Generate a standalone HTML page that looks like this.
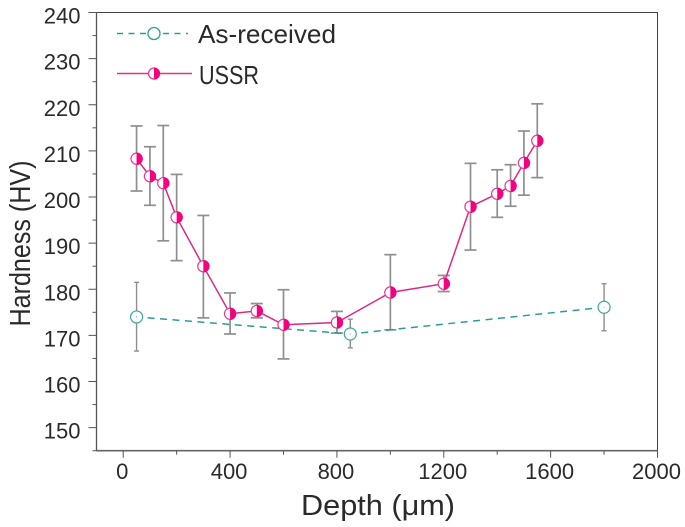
<!DOCTYPE html>
<html>
<head>
<meta charset="utf-8">
<style>
html,body{margin:0;padding:0;background:#fff;width:685px;height:527px;overflow:hidden}
svg{display:block}
text{font-family:"Liberation Sans",sans-serif;fill:#2a2a2a}
</style>
</head>
<body>
<svg id="chart" width="685" height="527" viewBox="0 0 685 527" xmlns="http://www.w3.org/2000/svg">
<text transform="translate(30,243.5) rotate(-90)" text-anchor="middle" font-size="29" textLength="166" lengthAdjust="spacingAndGlyphs">Hardness (HV)</text>
<text x="378" y="515" text-anchor="middle" font-size="29" textLength="154" lengthAdjust="spacingAndGlyphs">Depth (μm)</text>
<g>
<line x1="117" y1="33.5" x2="188" y2="33.5" stroke="#2a9d9b" stroke-width="1.5" stroke-dasharray="6 5.5"/>
<circle cx="154" cy="33.5" r="6" fill="#fff" stroke="#2a9d9b" stroke-width="1.3"/>
<text x="198" y="43" font-size="26" textLength="138" lengthAdjust="spacingAndGlyphs">As-received</text>
<line x1="117" y1="73.5" x2="192" y2="73.5" stroke="#e0358c" stroke-width="1.4"/>
<circle cx="154" cy="73.5" r="5.5" fill="#fff" stroke="#e0409a" stroke-width="1.3"/>
<path d="M154 67.5 A6 6 0 0 1 154 79.5 Z" fill="#f5007f"/>
<text x="199" y="84" font-size="26" textLength="60" lengthAdjust="spacingAndGlyphs">USSR</text>
</g>
</svg>
<script>
const xTickLabels = [0, 400, 800, 1200, 1600, 2000];
const xMinorTicks = [200, 600, 1000, 1400, 1800];
const yTickLabels = [150, 160, 170, 180, 190, 200, 210, 220, 230, 240];
const yMinorTicks = [145, 155, 165, 175, 185, 195, 205, 215, 225, 235];

const asReceivedDepth = [50, 850, 1800];
const asReceivedHardness = [174, 170.3, 176.1];
const asReceivedLow = [166.6, 167.3, 171];
const asReceivedHigh = [181.5, 173.5, 181.2];

const ussrDepth = [50, 100, 150, 200, 300, 400, 500, 600, 800, 1000, 1200, 1300, 1400, 1450, 1500, 1550];
const ussrHardness = [208.3, 204.5, 203, 195.6, 185, 174.7, 175.3, 172.3, 172.8, 179.3, 181.2, 197.9, 200.7, 202.4, 207.4, 212.2];
const ussrLow = [201.3, 198.2, 190.5, 186.2, 173.8, 170.3, 173.8, 164.9, 170.5, 171.2, 179.5, 188.5, 195.6, 198, 200.4, 204.2];
const ussrHigh = [215.4, 210.9, 215.5, 204.9, 196, 179.2, 176.9, 179.9, 175.2, 187.5, 183, 207.3, 205.9, 207, 214.3, 220.2];

const svg = document.getElementById('chart');
const NS = 'http://www.w3.org/2000/svg';
const left = 96.5, right = 657.5, top_ = 12.5, bottom = 450.7;
function xScale(v) { return left + (v + 100) * (right - left) / 2100; }
function yScale(v) { return bottom - (v - 145) * (bottom - top_) / 95; }
function make(tag, attrs, parent) {
  const el = document.createElementNS(NS, tag);
  for (const k in attrs) el.setAttribute(k, attrs[k]);
  (parent || svg).appendChild(el);
  return el;
}

const axes = make('g', {});


const frame = make('rect', { x: left, y: top_, width: right - left, height: bottom - top_, fill: 'none', stroke: '#444', 'stroke-width': 1 }, axes);


const base = make('line', { x1: left, x2: right, y1: bottom, y2: bottom, stroke: '#666', 'stroke-width': 1.6 }, axes);


const yLine = make('line', { x1: left, x2: left, y1: top_, y2: bottom, stroke: '#555', 'stroke-width': 1.3 }, axes);



xTickLabels.forEach(function (v) {
  const t = make('line', { x1: xScale(v), x2: xScale(v), y1: bottom, y2: bottom + 7, stroke: '#555', 'stroke-width': 1 }, axes);
  
  
  const l = make('text', { x: xScale(v) - 1, y: bottom + 28.5, 'text-anchor': 'middle', 'font-size': 22 }, axes);
  
  
  l.textContent = v;
});
xMinorTicks.forEach(function (v) {
  const t = make('line', { x1: xScale(v), x2: xScale(v), y1: bottom, y2: bottom + 4, stroke: '#555', 'stroke-width': 1 }, axes);
  
  
});
yTickLabels.forEach(function (v) {
  const t = make('line', { x1: left - 8, x2: left, y1: yScale(v), y2: yScale(v), stroke: '#555', 'stroke-width': 1 }, axes);
  
  
  const l = make('text', { x: 80.5, y: yScale(v) + 11, 'text-anchor': 'end', 'font-size': 22 }, axes);
  
  
  l.textContent = v;
});
yMinorTicks.forEach(function (v) {
  const t = make('line', { x1: left - 4, x2: left, y1: yScale(v), y2: yScale(v), stroke: '#555', 'stroke-width': 1 }, axes);
  
  
});

function errorBars(depth, low, high, capHalf, width, name) {
  depth.forEach(function (d, i) {
    const x = xScale(d);
    const g = make('g', { stroke: '#8f8f8f', 'stroke-width': width });
    
    
    make('line', { x1: x, x2: x, y1: yScale(low[i]), y2: yScale(high[i]) }, g);
    make('line', { x1: x - capHalf, x2: x + capHalf, y1: yScale(low[i]), y2: yScale(low[i]) }, g);
    make('line', { x1: x - capHalf, x2: x + capHalf, y1: yScale(high[i]), y2: yScale(high[i]) }, g);
  });
}
errorBars(asReceivedDepth, asReceivedLow, asReceivedHigh, 2.5, 1.4, 'as-received-error-bar');
errorBars(ussrDepth, ussrLow, ussrHigh, 6, 1.7, 'ussr-error-bar');

// As-received dashed connectors, trimmed short of each marker
asReceivedDepth.slice(1).forEach(function (d, i) {
  const x1 = xScale(asReceivedDepth[i]), y1 = yScale(asReceivedHardness[i]);
  const x2 = xScale(d), y2 = yScale(asReceivedHardness[i + 1]);
  const len = Math.hypot(x2 - x1, y2 - y1), ux = (x2 - x1) / len, uy = (y2 - y1) / len;
  const seg = make('line', { x1: x1 + ux * 11, y1: y1 + uy * 11, x2: x2 - ux * 7, y2: y2 - uy * 7, stroke: '#2a9d9b', 'stroke-width': 1.5, 'stroke-dasharray': '7 5.5' });
  
  
});
asReceivedDepth.forEach(function (d, i) {
  const g = make('g', {});
  
  
  make('circle', { cx: xScale(d), cy: yScale(asReceivedHardness[i]), r: 6, fill: '#fff', stroke: '#3aa5a3', 'stroke-width': 1.2 }, g);
  make('circle', { cx: xScale(d), cy: yScale(asReceivedHardness[i]), r: 0.5, fill: '#3aa5a3' }, g);
});

const ussrPts = ussrDepth.map(function (d, i) { return xScale(d) + ',' + yScale(ussrHardness[i]); }).join(' ');
const ussrLine = make('polyline', { points: ussrPts, fill: 'none', stroke: '#d92a86', 'stroke-width': 1.5 });


ussrDepth.forEach(function (d, i) {
  const cx = xScale(d), cy = yScale(ussrHardness[i]);
  const g = make('g', {});
  
  
  make('circle', { cx: cx, cy: cy, r: 5.6, fill: '#fff', stroke: '#e0409a', 'stroke-width': 1.2 }, g);
  make('path', { d: 'M' + cx + ' ' + (cy - 6.2) + ' A6.2 6.2 0 0 1 ' + cx + ' ' + (cy + 6.2) + ' Z', fill: '#f5007f' }, g);
});
</script>
</body>
</html>
